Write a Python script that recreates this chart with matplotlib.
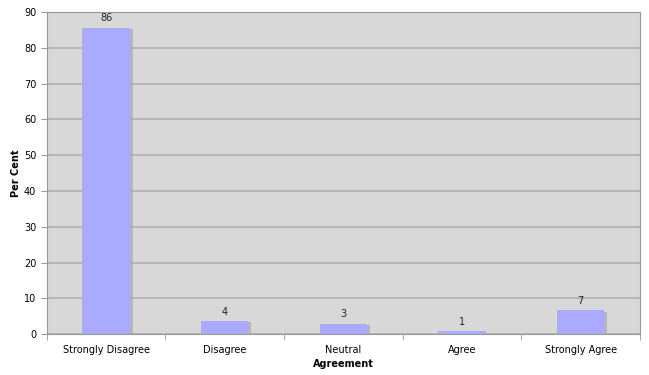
import matplotlib
matplotlib.use("Agg")
import matplotlib.pyplot as plt
import matplotlib.patheffects as pe
import numpy as np

categories = ["Strongly Disagree", "Disagree", "Neutral", "Agree", "Strongly Agree"]
per_cent = [85.6, 3.7, 2.9, 0.8, 6.7]
labels = ["86", "4", "3", "1", "7"]
y_ticks = [0, 10, 20, 30, 40, 50, 60, 70, 80, 90]

plt.rcParams["font.family"] = "DejaVu Sans"

fig = plt.figure(figsize=(6.49, 3.75), dpi=100)
ax = fig.add_axes([0.072, 0.109, 0.914, 0.859])
ax.set_facecolor("#d8d8d8")

x = np.arange(len(categories))
bars = ax.bar(x, per_cent, width=0.4, color="#aaaaff", zorder=3,
              path_effects=[pe.SimplePatchShadow(offset=(2, -1), shadow_rgbFace="#a8a8a8", alpha=0.7),
                            pe.Normal()])

for xi, v, lab in zip(x, per_cent, labels):
    ax.text(xi, v + 1.2, lab, ha="center", va="bottom", fontsize=7, color="#222222")

ax.set_xlim(-0.5, len(categories) - 0.5)
ax.set_ylim(0, 90)
ax.set_yticks(y_ticks)
ax.set_xticks(x)
ax.set_xticklabels(categories, fontsize=7)
ax.set_xticks(np.arange(-0.5, len(categories)), minor=True)
ax.tick_params(axis="x", which="major", length=0, pad=8)
ax.tick_params(axis="x", which="minor", length=4, color="#999999")
ax.tick_params(axis="y", labelsize=7, length=4, color="#999999")

ax.grid(axis="y", color="#b0b0b0", linewidth=1.2, zorder=0)
for s in ax.spines.values():
    s.set_color("#999999")
    s.set_linewidth(0.8)

ax.set_xlabel("Agreement", fontsize=7, fontweight="bold", labelpad=3)
ax.set_ylabel("Per Cent", fontsize=7, fontweight="bold", labelpad=2)

fig.savefig("out.png", dpi=100)
